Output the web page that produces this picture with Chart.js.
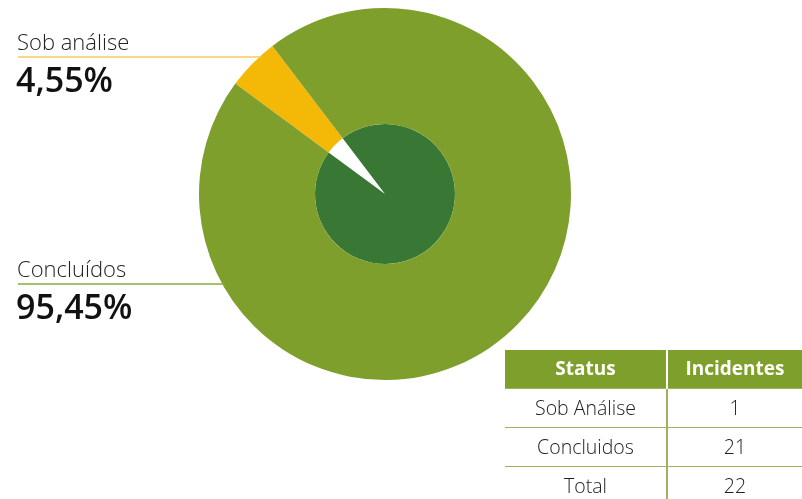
<!DOCTYPE html>
<html>
<head>
<meta charset="utf-8">
<script src="https://cdn.jsdelivr.net/npm/chart.js@4"></script>
<style>
  body { margin: 0; background: #fff; font-family: "Open Sans", sans-serif; }
  #wrap { position: relative; width: 802px; height: 499px; overflow: hidden; }
  canvas { position: absolute; left: 0; top: 0; }
  table { position: absolute; left: 505px; top: 350px; border-collapse: collapse; width: 297px; font-size: 19.5px; color: #222; }
  th, td { padding: 0; line-height: 1; box-sizing: border-box; }
  th { background: #7f9f2c; color: #fff; font-weight: 700; height: 38px; font-size: 19px; }
  td { height: 39px; text-align: center; border-top: 1.5px solid #9cb35a; font-weight: 300; }
  th + th { border-left: 2px solid #fff; }
  td + td { border-left: 2px solid #9cb35a; }
</style>
</head>
<body>
<div id="wrap">
  <canvas id="pie" width="802" height="499"></canvas>
  <table id="tab"></table>
</div>
<script>
const labels = ['Sob análise', 'Concluídos']
const valores = [1, 21]
const cores = ['#f4b807', '#7f9f2c']
const coresMiolo = ['#ffffff', '#387834']
const linhas = ['#f2cc5a', '#8aab3c']

const tabelaCab = ['Status', 'Incidentes']
const tabelaNomes = ['Sob Análise', 'Concluidos', 'Total']
const tabelaValores = [1, 21, 22]

const total = valores.reduce((a, b) => a + b, 0)
const pct = v => (v / total * 100).toFixed(2).replace('.', ',') + '%'

// texto da esquerda com linha até a borda da pizza
const rotulos = {
  id: 'rotulos',
  afterDraw(chart) {
    const ctx = chart.ctx
    const arc = chart.getDatasetMeta(0).data[0]
    const cx = arc.x, cy = arc.y, r = arc.outerRadius
    const pos = [{ y: 57 }, { y: 284 }]
    labels.forEach((nome, i) => {
      const y = pos[i].y
      const dx = Math.sqrt(Math.max(0, r * r - (y - cy) * (y - cy)))
      ctx.save()
      ctx.strokeStyle = linhas[i]
      ctx.lineWidth = 1.5
      ctx.beginPath()
      ctx.moveTo(18, y)
      ctx.lineTo(cx - dx + 2, y)
      ctx.stroke()
      ctx.fillStyle = '#222'
      ctx.textBaseline = 'alphabetic'
      ctx.font = '300 22px "Open Sans"'
      ctx.fillText(nome, 17, y - 7)
      ctx.fillStyle = '#111'
      ctx.font = '600 34px "Open Sans"'
      ctx.fillText(pct(valores[i]), 16, y + 35)
      ctx.restore()
    })
  }
}

new Chart(document.getElementById('pie'), {
  type: 'doughnut',
  data: {
    labels: labels,
    datasets: [
      { data: valores, backgroundColor: cores, borderWidth: 0, weight: 116 },
      { data: valores, backgroundColor: coresMiolo, borderWidth: 0, weight: 70 }
    ]
  },
  options: {
    responsive: false,
    animation: false,
    cutout: 0,
    rotation: -53.6,
    layout: { padding: { left: 199, right: 231, top: 8, bottom: 119 } },
    plugins: { legend: { display: false }, tooltip: { enabled: false } }
  },
  plugins: [rotulos]
})

const tab = document.getElementById('tab')
let html = '<tr>' + tabelaCab.map(t => '<th>' + t + '</th>').join('') + '</tr>'
tabelaNomes.forEach((n, i) => {
  html += '<tr><td style="width:162px">' + n + '</td><td>' + tabelaValores[i] + '</td></tr>'
})
tab.innerHTML = html
</script>
</body>
</html>
